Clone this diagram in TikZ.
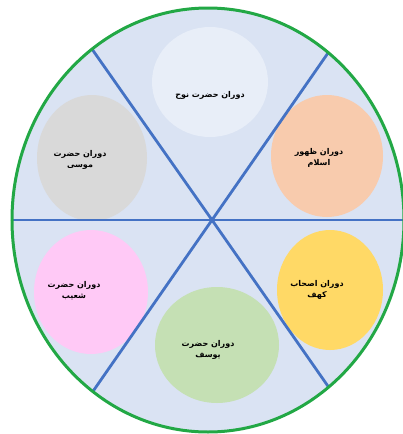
\documentclass[tikz,border=0pt]{standalone}
\usepackage{fontspec}
\usepackage{xcolor}
\usetikzlibrary{shapes.geometric}
\TeXXeTstate=1
\newfontfamily\arabicfont[Script=Arabic]{DejaVu Sans}
\definecolor{wheelbg}{HTML}{DAE3F3}
\definecolor{spokeblue}{HTML}{4472C4}
\definecolor{rimgreen}{HTML}{22A845}
\definecolor{nuhfill}{HTML}{E8EEF8}
\definecolor{musafill}{HTML}{D9D9D9}
\definecolor{islamfill}{HTML}{F8CBAD}
\definecolor{shuaybfill}{HTML}{FFC9F6}
\definecolor{kahffill}{HTML}{FFD966}
\definecolor{yusuffill}{HTML}{C5E0B4}
\tikzset{
  era/.style={ellipse,minimum width=2*#1,inner sep=0pt},
  eratext/.style={font=\arabicfont\bfseries\fontsize{8}{11}\selectfont,align=center},
  spoke/.style={spokeblue,line width=2.8pt}
}

\begin{document}
\begin{tikzpicture}[x=1pt,y=-1pt]
\useasboundingbox (0,0) rectangle (403,434);

% Wheel
\fill[wheelbg] (208,220) ellipse [x radius=196,y radius=212];

% Eras
\node[era=58,minimum height=110,fill=nuhfill] (nuh) at (210,82) {};
\node[era=55,minimum height=126,fill=musafill] (musa) at (92,158) {};
\node[era=56,minimum height=122,fill=islamfill] (islam) at (327,156) {};
\node[era=57,minimum height=124,fill=shuaybfill] (shuayb) at (91,292) {};
\node[era=53,minimum height=120,fill=kahffill] (kahf) at (330,290) {};
\node[era=62,minimum height=116,fill=yusuffill] (yusuf) at (217,345) {};

% Spokes
\coordinate (hub) at (212,220);
\coordinate (ul) at (80,32);
\coordinate (ur) at (344,30);
\coordinate (ll) at (80,410);
\coordinate (lr) at (346,412);
\coordinate (w) at (0,220);
\coordinate (e) at (420,220);
\begin{scope}
\clip (208,220) ellipse [x radius=196,y radius=212];
\draw[spoke] (ul) -- (hub) -- (lr);
\draw[spoke] (ur) -- (hub) -- (ll);
\draw[spoke] (w) -- (hub) -- (e);
\end{scope}

% Rim
\draw[rimgreen,line width=3pt] (208,220) ellipse [x radius=196,y radius=212];

% Labels
\node[eratext] (nuhtext) at (210,95) {\beginR دوران حضرت نوح\endR};
\node[eratext] (musatext) at (80,160) {\beginR دوران حضرت\endR\\\beginR موسی\endR};
\node[eratext] (islamtext) at (319,158) {\beginR دوران ظهور\endR\\\beginR اسلام\endR};
\node[eratext] (shuaybtext) at (74,291) {\beginR دوران حضرت\endR\\\beginR شعیب\endR};
\node[eratext] (kahftext) at (317,290) {\beginR دوران اصحاب\endR\\\beginR کهف\endR};
\node[eratext] (yusuftext) at (208,350) {\beginR دوران حضرت\endR\\\beginR یوسف\endR};

\end{tikzpicture}
\end{document}
